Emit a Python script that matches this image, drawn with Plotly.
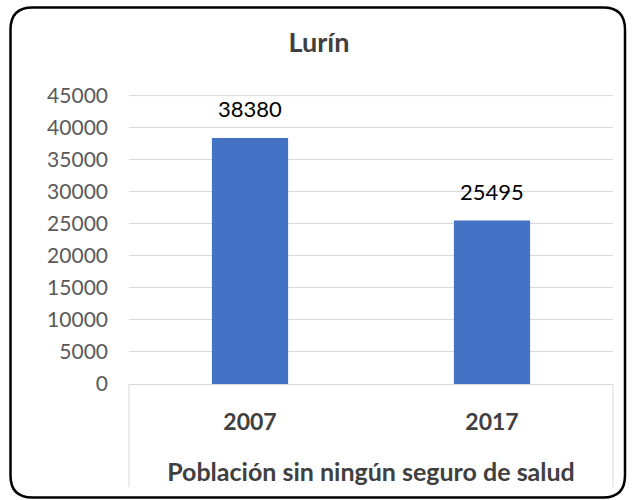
import plotly.graph_objects as go

categories = ["2007", "2017"]
values = [38380, 25495]
y_ticks = [0, 5000, 10000, 15000, 20000, 25000, 30000, 35000, 40000, 45000]
chart_title = "Lurín"
x_title = "Población sin ningún seguro de salud"

W, H = 632, 500
PL, PR, PT, PB = 129, 613, 95, 384  # plot area in px


def px(x):
    return (x - PL) / (PR - PL)


def py(y):
    return (PB - y) / (PB - PT)


FONT = "Lato"
BAR = "#4472C4"
GRID = "#D9D9D9"
xpos = list(range(len(categories)))

fig = go.Figure()
fig.add_trace(go.Bar(
    x=xpos, y=values, width=0.315,
    marker=dict(color=BAR, line=dict(width=0)),
    hoverinfo="skip",
))

for xi, v in zip(xpos, values):
    fig.add_annotation(x=xi, y=v, xref="x", yref="y", text=str(v),
                       showarrow=False, yanchor="bottom", yshift=14,
                       font=dict(family=FONT, size=22, color="#000000"))

# rounded chart border
L, R, T, B, r = 10.5, 625, 7.5, 497.5, 22
path = (f"M {px(L+r)},{py(T)} L {px(R-r)},{py(T)} Q {px(R)},{py(T)} {px(R)},{py(T+r)} "
        f"L {px(R)},{py(B-r)} Q {px(R)},{py(B)} {px(R-r)},{py(B)} "
        f"L {px(L+r)},{py(B)} Q {px(L)},{py(B)} {px(L)},{py(B-r)} "
        f"L {px(L)},{py(T+r)} Q {px(L)},{py(T)} {px(L+r)},{py(T)} Z")
fig.add_shape(type="path", path=path, xref="paper", yref="paper",
              line=dict(color="#000000", width=2.5), layer="above")

# category axis box lines
for xv in (0, 1):
    fig.add_shape(type="line", xref="paper", yref="paper",
                  x0=xv, x1=xv, y0=0, y1=py(487),
                  line=dict(color=GRID, width=1))

# top gridline (at the top of the value range)
fig.add_shape(type="line", xref="paper", yref="y", x0=0, x1=1,
              y0=y_ticks[-1], y1=y_ticks[-1], layer="below",
              line=dict(color=GRID, width=1))

fig.update_layout(
    width=W, height=H,
    margin=dict(l=PL, r=W - PR, t=PT, b=H - PB, autoexpand=False),
    paper_bgcolor="white", plot_bgcolor="white",
    showlegend=False,
    title=dict(text=f"<b>{chart_title}</b>", x=319 / W, xref="container", xanchor="center",
               y=1 - 43 / H, yref="container", yanchor="middle",
               font=dict(family=FONT, size=27, color="#404040")),
    font=dict(family=FONT),
)
fig.update_xaxes(
    range=[-0.5, len(categories) - 0.5],
    tickvals=xpos, ticktext=[f"<b>{c}</b>" for c in categories],
    showgrid=False, showline=True, linecolor=GRID, linewidth=1, zeroline=False,
    tickfont=dict(family=FONT, size=23, color="#404040"),
    ticklabelstandoff=17,
    title=dict(text=f"<b>{x_title}</b>", standoff=29,
               font=dict(family=FONT, size=25, color="#404040")),
    fixedrange=True,
)
fig.update_yaxes(
    range=[0, 45000 * 1.002], tickvals=y_ticks, ticktext=[str(t) for t in y_ticks],
    showgrid=True, gridcolor=GRID, gridwidth=1, zeroline=False,
    tickfont=dict(family=FONT, size=21, color="#595959"),
    ticklabelstandoff=20,
    fixedrange=True,
)

fig.write_html("out.html", config={"displayModeBar": False},
               post_script="document.body.style.margin='0';document.body.style.overflow='hidden';")
